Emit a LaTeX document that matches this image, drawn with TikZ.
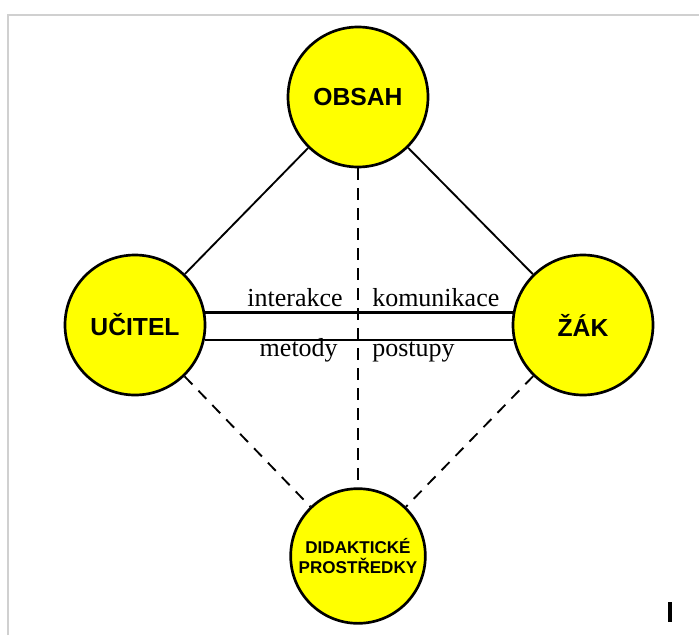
\documentclass[tikz,border=0pt]{standalone}
\usepackage{fontspec}
\setmainfont{Liberation Serif}
\setsansfont{Liberation Sans}
\definecolor{zluta}{RGB}{255,255,0}
\definecolor{ramec}{RGB}{208,208,208}

\begin{document}
\begin{tikzpicture}[x=0.75pt,y=-0.75pt,
    kruh/.style={circle,draw,line width=2pt,fill=zluta,inner sep=0pt,minimum size=105pt,
        font=\sffamily\bfseries\fontsize{18.5}{20}\selectfont},
    spoj/.style={line width=1.4pt},
    carkovane/.style={spoj,dash pattern=on 8.5pt off 6.5pt},
    slovo/.style={inner sep=0pt,font=\fontsize{19.5}{20}\selectfont}]
    \useasboundingbox (0,0) rectangle (699,635);
    \draw[ramec,line width=1.5pt] (8,635) -- (8,15) -- (699,15);

    \node[kruh] (obsah) at (358,97) {OBSAH};
    \node[kruh] (ucitel) at (135,325) {UČITEL};
    \node[kruh] (zak) at (583,325) {ŽÁK};
    \node[kruh,minimum size=101pt,align=center,
        font=\sffamily\bfseries\fontsize{12.8}{14.5}\selectfont] (prostredky) at (358,556) {DIDAKTICKÉ\\PROSTŘEDKY};

    \draw[spoj] (obsah) -- (ucitel);
    \draw[spoj] (obsah) -- (zak);
    \draw[carkovane] (ucitel) -- (prostredky);
    \draw[carkovane] (zak) -- (prostredky);
    \draw[carkovane] (obsah) -- (prostredky);

    \draw[spoj,line width=1.7pt] (ucitel.10) -- (zak.170);
    \draw[spoj,line width=1.7pt] (ucitel.-12) -- (zak.-168);

    \node[slovo,anchor=base east] (interakce) at (343,306) {interakce};
    \node[slovo,anchor=base west] (komunikace) at (372,306) {komunikace};
    \node[slovo,anchor=base east] (metody) at (338,356) {metody};
    \node[slovo,anchor=base west] (postupy) at (372,356) {postupy};

    \draw[line width=2.4pt] (670,602) -- (670,622);
\end{tikzpicture}
\end{document}
